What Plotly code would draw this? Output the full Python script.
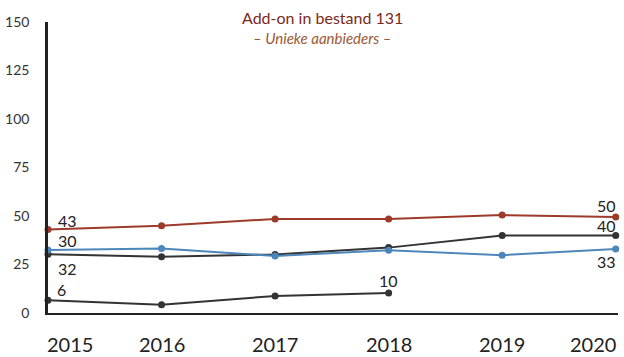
import plotly.graph_objects as go

years = [2015, 2016, 2017, 2018, 2019, 2020]
year_labels = ["2015", "2016", "2017", "2018", "2019", "2020"]
red_vals = [43, 45, 48.5, 48.5, 50.5, 49.5]
blue_vals = [32.5, 33.3, 29.4, 32.4, 29.8, 33]
dark_vals = [30.3, 29, 30.2, 33.7, 40, 40]
low_years = [2015, 2016, 2017, 2018]
low_vals = [6.6, 4.3, 8.8, 10.3]
y_ticks = [0, 25, 50, 75, 100, 125, 150]

title_text = "Add-on in bestand 131"
subtitle_text = "– Unieke aanbieders –"

# label: (text, x, y, xshift, yshift, xanchor)
labels = [
    ("43", 2015, 43, 8, 9, "left"),
    ("30", 2015, 32.5, 8, 9, "left"),
    ("32", 2015, 30.3, 8, -14, "left"),
    ("6", 2015, 6.6, 7, 11, "left"),
    ("10", 2018, 10.3, 0, 13, "center"),
    ("50", 2020, 49.5, 2, 11, "right"),
    ("40", 2020, 40, 2, 10, "right"),
    ("33", 2020, 33, 2, -13, "right"),
]

RED = "#9c3b2b"
BLUE = "#4d86bb"
DARK = "#333333"
FONT = "Lato"

fig = go.Figure()
for vals, xs, col in [(dark_vals, years, DARK), (blue_vals, years, BLUE),
                      (red_vals, years, RED), (low_vals, low_years, DARK)]:
    fig.add_trace(go.Scatter(x=xs, y=vals, mode="lines+markers",
                             line=dict(color=col, width=2),
                             marker=dict(color=col, size=7),
                             cliponaxis=False, showlegend=False))

for t, x, y, xs, ys, xa in labels:
    fig.add_annotation(x=x, y=y, text=t, showarrow=False, xshift=xs, yshift=ys,
                       xanchor=xa, font=dict(family=FONT, size=16, color="#222"))

# x tick labels (first/last kept inside the page, as in the reference)
for i, (x, t) in enumerate(zip(years, year_labels)):
    xa = "left" if i == 0 else ("right" if i == len(years) - 1 else "center")
    xs = -3 if i == 0 else (2 if i == len(years) - 1 else 0)
    fig.add_annotation(x=x, y=0, yref="y", text=t, showarrow=False,
                       xanchor=xa, yanchor="middle", xshift=xs, yshift=-31,
                       font=dict(family=FONT, size=20, color="#222"))

fig.add_annotation(xref="paper", yref="paper", x=0.482, y=1.014, text=title_text,
                   showarrow=False, xanchor="center", yanchor="middle",
                   font=dict(family=FONT, size=16, color="#7a2a22"))
fig.add_annotation(xref="paper", yref="paper", x=0.482, y=0.945,
                   text="<i>" + subtitle_text + "</i>",
                   showarrow=False, xanchor="center", yanchor="middle",
                   font=dict(family=FONT, size=15, color="#9a5a38"))

fig.update_layout(
    width=624, height=357,
    margin=dict(l=48, r=6, t=22, b=44),
    paper_bgcolor="white", plot_bgcolor="white",
    xaxis=dict(range=[2015, 2020.02], tickvals=years, showgrid=False,
               zeroline=False, showline=True, linecolor="#222", linewidth=2,
               ticks="", showticklabels=False),
    yaxis=dict(range=[0, 150], tickvals=y_ticks, showgrid=False,
               zeroline=False, showline=True, linecolor="#222", linewidth=2.5,
               ticks="", ticklabelstandoff=13,
               tickfont=dict(family=FONT, size=14, color="#333")),
)

fig.write_html("out.html")
